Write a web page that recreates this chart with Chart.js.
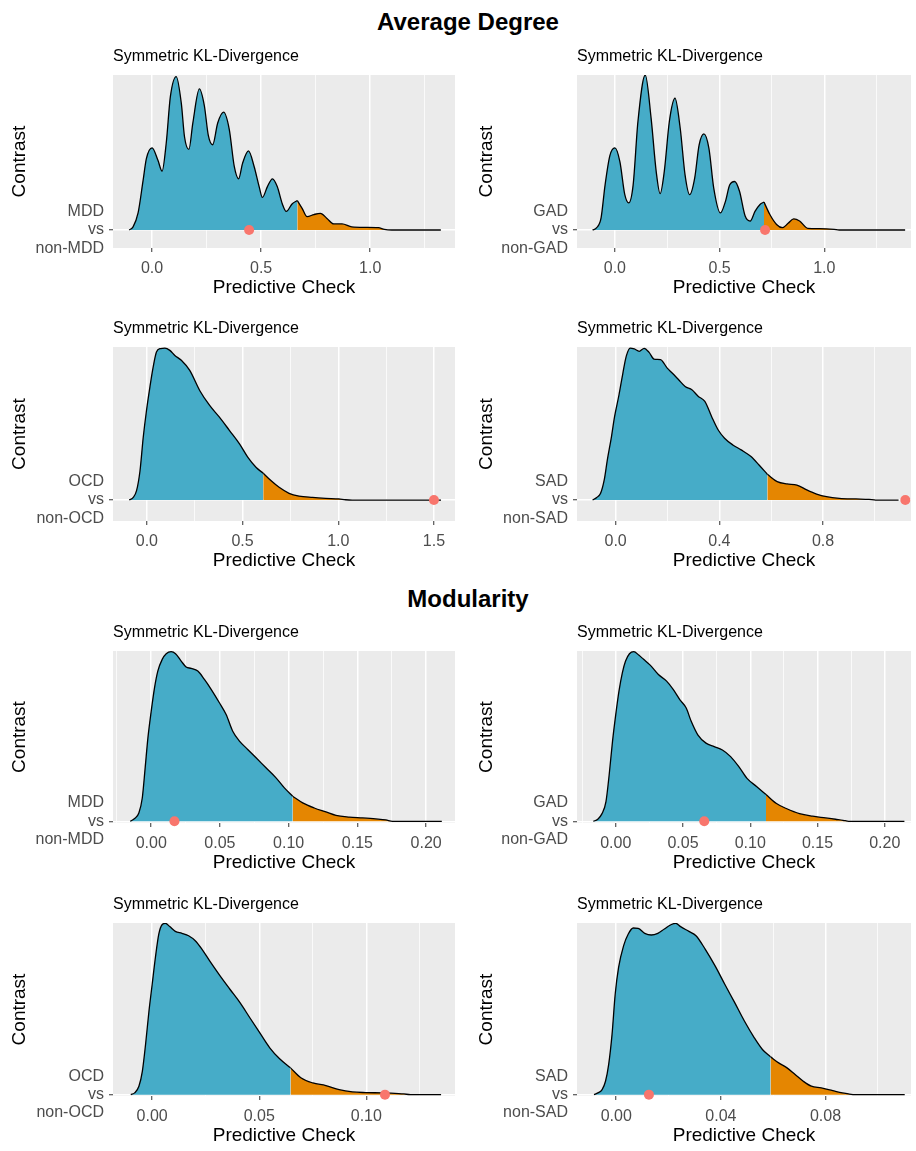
<!DOCTYPE html>
<html>
<head>
<meta charset="utf-8">
<title>Predictive checks</title>
<script src="https://cdn.jsdelivr.net/npm/chart.js@4.4.1/dist/chart.umd.min.js"></script>
<style>
  html, body { margin: 0; padding: 0; background: #fff; overflow: hidden; }
  body { width: 916px; height: 1151px; position: relative; font-family: "Liberation Sans", Arial, sans-serif; }
  .section { position: absolute; left: 0; width: 936px; text-align: center; font-weight: bold; font-size: 24px; color: #000; }
  canvas { position: absolute; }
</style>
</head>
<body>
<div class="section" style="top:8px">Average Degree</div>
<div class="section" style="top:585px">Modularity</div>

<script>
// ---- data: density ridges (x = predictive check, y = ridge height, 1 = panel top) ----
const degMddX = [-0.105,-0.087,-0.064,-0.041,-0.026,0.000,0.027,0.046,0.065,0.084,0.111,0.134,0.149,0.169,0.187,0.217,0.240,0.258,0.278,0.301,0.328,0.354,0.377,0.397,0.415,0.442,0.468,0.491,0.506,0.529,0.552,0.574,0.597,0.615,0.643,0.666,0.688,0.711,0.742,0.772,0.802,0.833,0.871,0.916,0.977,1.038,1.065,1.099,1.324];
const degMddY = [0,0.02,0.11,0.32,0.46,0.53,0.45,0.38,0.56,0.86,0.99,0.82,0.60,0.52,0.69,0.91,0.80,0.61,0.55,0.69,0.76,0.65,0.41,0.33,0.43,0.51,0.41,0.28,0.21,0.28,0.33,0.28,0.17,0.12,0.17,0.19,0.14,0.086,0.10,0.108,0.075,0.039,0.039,0.02,0.017,0.015,0.004,0,0];

const degGadX = [-0.107,-0.087,-0.066,-0.047,-0.024,0.000,0.024,0.047,0.066,0.087,0.110,0.145,0.173,0.197,0.216,0.236,0.260,0.287,0.312,0.335,0.357,0.381,0.402,0.425,0.449,0.472,0.504,0.528,0.548,0.572,0.595,0.622,0.646,0.669,0.693,0.712,0.740,0.772,0.800,0.827,0.854,0.882,0.921,0.976,1.047,1.071,1.386];
const degGadY = [0,0.015,0.079,0.29,0.48,0.53,0.44,0.23,0.175,0.29,0.70,1.0,0.72,0.38,0.235,0.38,0.70,0.85,0.655,0.356,0.228,0.335,0.548,0.62,0.527,0.27,0.11,0.185,0.29,0.313,0.25,0.09,0.058,0.12,0.165,0.18,0.10,0.036,0.015,0.043,0.072,0.058,0.011,0.009,0.004,0,0];

const degOcdX = [-0.092,-0.071,-0.054,-0.036,-0.019,-0.002,0.016,0.033,0.050,0.071,0.094,0.120,0.146,0.180,0.224,0.276,0.328,0.380,0.432,0.484,0.527,0.570,0.608,0.648,0.691,0.743,0.795,0.865,0.934,1.003,1.038,1.073,1.537];
const degOcdY = [0,0.017,0.061,0.19,0.41,0.585,0.74,0.87,0.967,0.99,0.993,0.978,0.945,0.913,0.847,0.716,0.618,0.54,0.454,0.367,0.28,0.214,0.175,0.127,0.083,0.044,0.026,0.017,0.011,0.007,0.002,0,0];

const degSadX = [-0.089,-0.073,-0.058,-0.044,-0.032,-0.016,-0.004,0.013,0.028,0.041,0.056,0.072,0.091,0.110,0.129,0.148,0.173,0.199,0.218,0.243,0.268,0.294,0.319,0.344,0.370,0.395,0.420,0.452,0.484,0.522,0.553,0.585,0.623,0.661,0.699,0.737,0.775,0.813,0.863,0.927,0.977,1.003,1.091];
const degSadY = [0,0.017,0.044,0.131,0.262,0.415,0.546,0.688,0.83,0.94,0.993,0.987,0.972,0.991,0.965,0.921,0.917,0.862,0.83,0.786,0.742,0.72,0.677,0.644,0.546,0.459,0.404,0.36,0.328,0.284,0.229,0.168,0.12,0.105,0.098,0.066,0.039,0.022,0.011,0.007,0.004,0,0];

const modMddX = [-0.0153,-0.0121,-0.0090,-0.0065,-0.0044,-0.0024,0.0,0.0024,0.0048,0.0080,0.0109,0.0145,0.0177,0.0218,0.0254,0.0291,0.0339,0.0387,0.0436,0.0496,0.0545,0.0593,0.0642,0.0702,0.0763,0.0835,0.0908,0.0969,0.1029,0.1102,0.1186,0.1271,0.1344,0.1441,0.1538,0.1634,0.1707,0.1755,0.2114];
const modMddY = [0,0.016,0.049,0.137,0.314,0.49,0.647,0.784,0.882,0.951,0.984,0.996,0.984,0.941,0.906,0.898,0.882,0.833,0.775,0.696,0.627,0.529,0.471,0.422,0.373,0.314,0.255,0.196,0.147,0.108,0.078,0.055,0.035,0.025,0.02,0.014,0.008,0,0];

const modGadX = [-0.0166,-0.0134,-0.0102,-0.0073,-0.0049,-0.0024,0.0,0.0024,0.0049,0.0073,0.0102,0.0134,0.0171,0.0207,0.0256,0.0317,0.0378,0.0427,0.0476,0.0524,0.0561,0.0610,0.0671,0.0732,0.0793,0.0854,0.0915,0.0976,0.1049,0.1117,0.1195,0.1268,0.1366,0.1463,0.1561,0.1634,0.1690,0.1732,0.2146];
const modGadY = [0,0.012,0.045,0.114,0.272,0.469,0.626,0.764,0.872,0.941,0.984,0.996,0.976,0.951,0.917,0.862,0.823,0.774,0.715,0.665,0.587,0.508,0.459,0.439,0.419,0.38,0.321,0.252,0.203,0.157,0.104,0.075,0.045,0.03,0.02,0.012,0.006,0,0];

const modOcdX = [-0.0100,-0.0082,-0.0062,-0.0046,-0.0031,-0.0015,0.0,0.0015,0.0031,0.0046,0.0062,0.0082,0.0108,0.0139,0.0170,0.0201,0.0232,0.0270,0.0317,0.0363,0.0410,0.0456,0.0502,0.0549,0.0595,0.0646,0.0696,0.0750,0.0811,0.0873,0.0935,0.0997,0.1074,0.1151,0.1175,0.1206,0.1349];
const modOcdY = [0,0.01,0.049,0.136,0.292,0.487,0.643,0.799,0.936,0.99,0.998,0.979,0.951,0.94,0.926,0.897,0.848,0.776,0.692,0.614,0.536,0.448,0.361,0.273,0.209,0.156,0.097,0.068,0.053,0.029,0.016,0.012,0.01,0.006,0.004,0,0];

const modSadX = [-0.0085,-0.0070,-0.0054,-0.0041,-0.0029,-0.0016,-0.0004,0.0009,0.0028,0.0046,0.0065,0.0084,0.0109,0.0134,0.0159,0.0184,0.0209,0.0228,0.0246,0.0278,0.0305,0.0340,0.0378,0.0415,0.0453,0.0490,0.0528,0.0559,0.0590,0.0621,0.0653,0.0684,0.0715,0.0746,0.0784,0.0828,0.0865,0.0888,0.0915,0.1103];
const modSadY = [0,0.01,0.029,0.078,0.175,0.351,0.585,0.741,0.867,0.936,0.971,0.969,0.94,0.93,0.94,0.965,0.99,0.998,0.979,0.951,0.926,0.848,0.75,0.643,0.536,0.429,0.331,0.263,0.22,0.185,0.156,0.117,0.078,0.049,0.039,0.023,0.01,0.004,0,0];

// panel order: degree MDD, GAD, OCD, SAD, modularity MDD, GAD, OCD, SAD
const groups = ['MDD', 'GAD', 'OCD', 'SAD', 'MDD', 'GAD', 'OCD', 'SAD'];
const tailStart = [0.666, 0.712, 0.608, 0.585, 0.1029, 0.1117, 0.0646, 0.0590];
const observed = [0.445, 0.717, 1.5, 1.117, 0.0169, 0.0658, 0.1087, 0.0125];
const xMin = [-0.179, -0.181, -0.177, -0.149, -0.0278, -0.0288, -0.0183, -0.015];
const xMax = [1.389, 1.414, 1.61, 1.139, 0.221, 0.2195, 0.1414, 0.1127];

const ticksHalf = [0, 0.5, 1.0];
const ticksHalfWide = [0, 0.5, 1.0, 1.5];
const minorHalf = [0.25, 0.75, 1.25];
const ticksPoint4 = [0, 0.4, 0.8];
const minorPoint4 = [0.2, 0.6, 1.0];
const ticksPoint05 = [0, 0.05, 0.10, 0.15, 0.20];
const minorPoint05 = [-0.025, 0.025, 0.075, 0.125, 0.175];
const ticksPoint04 = [0, 0.04, 0.08];
const minorPoint04 = [0.02, 0.06, 0.10];

const BLUE = '#46ACC8';
const ORANGE = '#E58601';
const FONT = '"Liberation Sans", Arial, sans-serif';

// ---- layout ----
const rowTop = [75, 347, 651, 923];
const rowBottom = [248, 521, 823, 1096];
const rowYMin = [-0.116, -0.137, -0.01, -0.008];

const panelBg = {
    id: 'panelBg',
    beforeDraw(chart) {
        const a = chart.chartArea;
        const c = chart.ctx;
        c.save();
        c.fillStyle = '#EBEBEB';
        c.fillRect(a.left, a.top, a.right - a.left, a.bottom - a.top);
        c.restore();
    }
};

function points(xs, ys, keep) {
    return xs.map((x, i) => ({ x: x, y: ys[i] })).filter(p => keep(p.x));
}

function makePanel(i, xs, ys, major, minor, digits) {
    const row = Math.floor(i / 2);
    const right = i % 2 === 1;
    const top = rowTop[row] - 37;
    const height = rowBottom[row] + 58 - top;

    const canvas = document.createElement('canvas');
    canvas.width = right ? 456 : 460;
    canvas.height = height;
    canvas.style.left = (right ? 460 : 0) + 'px';
    canvas.style.top = top + 'px';
    document.body.appendChild(canvas);

    const thr = tailStart[i];
    const allTicks = major.concat(minor)
        .filter(v => v >= xMin[i] && v <= xMax[i])
        .sort((a, b) => a - b);
    const isMajor = v => major.some(m => Math.abs(m - v) < 1e-9);

    const ridge = {
        fill: 'origin',
        borderColor: '#000000',
        borderWidth: 1.3,
        pointRadius: 0,
        cubicInterpolationMode: 'monotone'
    };

    new Chart(canvas, {
        type: 'line',
        data: {
            datasets: [
                {
                    data: [{ x: observed[i], y: 0 }],
                    showLine: false,
                    pointRadius: 5,
                    pointBackgroundColor: '#F8766D',
                    pointBorderWidth: 0,
                    clip: false,
                    order: 0
                },
                Object.assign({ data: points(xs, ys, x => x <= thr), backgroundColor: BLUE, order: 1 }, ridge),
                Object.assign({ data: points(xs, ys, x => x >= thr), backgroundColor: ORANGE, order: 2 }, ridge)
            ]
        },
        options: {
            responsive: false,
            animation: false,
            events: [],
            layout: { padding: { left: 0, right: right ? 0 : 3, top: 0, bottom: 0 } },
            plugins: {
                legend: { display: false },
                tooltip: { enabled: false },
                title: {
                    display: true,
                    text: 'Symmetric KL-Divergence',
                    align: 'start',
                    fullSize: false,
                    color: '#000000',
                    font: { family: FONT, size: 16, weight: 'normal', lineHeight: 1.2 },
                    padding: { top: 9, bottom: 8.8 }
                }
            },
            scales: {
                x: {
                    type: 'linear',
                    min: xMin[i],
                    max: xMax[i],
                    afterFit(s) { s.height = 58; },
                    afterBuildTicks(s) { s.ticks = allTicks.map(v => ({ value: v })); },
                    ticks: {
                        autoSkip: false,
                        maxRotation: 0,
                        padding: 7,
                        color: '#4D4D4D',
                        font: { family: FONT, size: 16 },
                        callback: v => isMajor(v) ? v.toFixed(digits) : ''
                    },
                    grid: {
                        color: '#FFFFFF',
                        lineWidth: ctx => isMajor(ctx.tick.value) ? 1.5 : 0.75,
                        tickLength: 4,
                        tickWidth: 1,
                        tickColor: ctx => isMajor(ctx.tick.value) ? '#333333' : 'rgba(0,0,0,0)'
                    },
                    border: { display: false },
                    title: {
                        display: true,
                        text: 'Predictive Check',
                        color: '#000000',
                        font: { family: FONT, size: 19 },
                        padding: { top: 0, bottom: 6.6 }
                    }
                },
                y: {
                    type: 'linear',
                    min: rowYMin[row],
                    max: 1,
                    afterFit(s) { s.width = right ? 117 : 113; },
                    afterBuildTicks(s) { s.ticks = [{ value: 0 }]; },
                    ticks: {
                        padding: 5,
                        color: '#4D4D4D',
                        font: { family: FONT, size: 16, lineHeight: 1.15 },
                        callback: () => [groups[i], 'vs', 'non-' + groups[i]]
                    },
                    grid: {
                        color: '#FFFFFF',
                        lineWidth: 1.5,
                        tickLength: 4,
                        tickWidth: 1,
                        tickColor: '#333333'
                    },
                    border: { display: false },
                    title: {
                        display: true,
                        text: 'Contrast',
                        color: '#000000',
                        font: { family: FONT, size: 19 },
                        padding: { top: right ? 15.3 : 8.6, bottom: 0 }
                    }
                }
            }
        },
        plugins: [panelBg]
    });
}

makePanel(0, degMddX, degMddY, ticksHalf, minorHalf, 1);
makePanel(1, degGadX, degGadY, ticksHalf, minorHalf, 1);
makePanel(2, degOcdX, degOcdY, ticksHalfWide, minorHalf, 1);
makePanel(3, degSadX, degSadY, ticksPoint4, minorPoint4, 1);
makePanel(4, modMddX, modMddY, ticksPoint05, minorPoint05, 2);
makePanel(5, modGadX, modGadY, ticksPoint05, minorPoint05, 2);
makePanel(6, modOcdX, modOcdY, ticksPoint05, minorHalf.map(v => v / 10), 2);
makePanel(7, modSadX, modSadY, ticksPoint04, minorPoint04, 2);
</script>
</body>
</html>
